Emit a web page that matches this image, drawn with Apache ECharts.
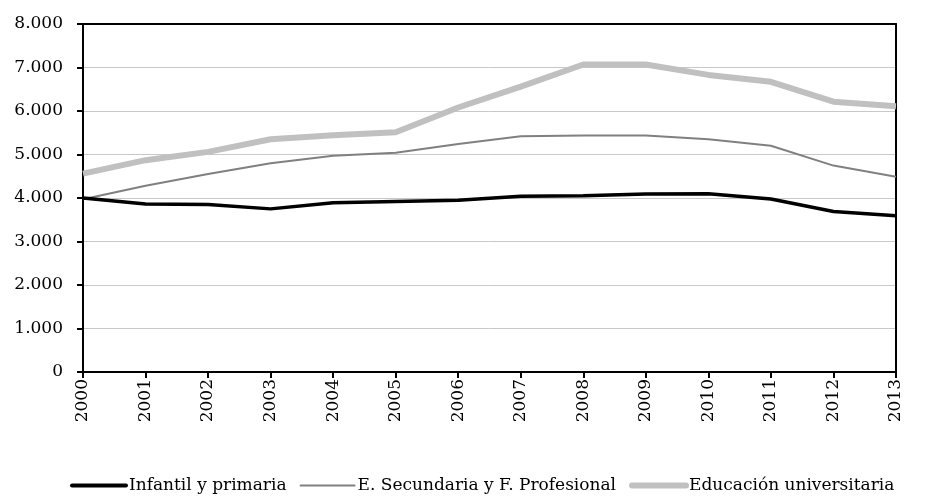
<!DOCTYPE html>
<html>
<head>
<meta charset="utf-8">
<script src="https://cdn.jsdelivr.net/npm/echarts@6/dist/echarts.min.js"></script>
<style>
  html, body { margin: 0; padding: 0; background: #fff; }
  #chart { width: 926px; height: 497px; }
</style>
</head>
<body>
<div id="chart"></div>
<script>
// años
var years = ['2000', '2001', '2002', '2003', '2004', '2005', '2006', '2007', '2008', '2009', '2010', '2011', '2012', '2013'];
// series
var infantil = [4000, 3860, 3850, 3750, 3890, 3920, 3950, 4040, 4050, 4090, 4100, 3975, 3690, 3590];
var secundaria = [3970, 4280, 4550, 4800, 4970, 5040, 5240, 5420, 5435, 5435, 5350, 5200, 4745, 4490];
var universitaria = [4560, 4870, 5060, 5350, 5440, 5510, 6080, 6560, 7070, 7070, 6830, 6670, 6215, 6110];

var FONT = 'DejaVu Serif';

function fmt(v) {
    return String(v).replace(/\B(?=(\d{3})+(?!\d))/g, '.');
}

var chart = echarts.init(document.getElementById('chart'));
chart.setOption({
    animation: false,
    textStyle: { fontFamily: FONT, color: '#000' },
    grid: { left: 83, right: 30, top: 24, bottom: 125, containLabel: false },
    legend: {
        top: 472,
        left: 65,
        itemWidth: 54,
        itemHeight: 14,
        itemGap: 13,
        textStyle: { fontFamily: FONT, fontSize: 17, color: '#000', padding: [0, 0, 0, -2] },
        data: [
            { name: 'Infantil y primaria', itemStyle: { opacity: 0 }, lineStyle: { width: 4, color: '#000', cap: 'round' } },
            { name: 'E. Secundaria y F. Profesional', itemStyle: { opacity: 0 }, lineStyle: { width: 2, color: '#808080', cap: 'round' } },
            { name: 'Educación universitaria', itemStyle: { opacity: 0 }, lineStyle: { width: 6, color: '#c0c0c0', cap: 'round' } }
        ]
    },
    xAxis: [{
        type: 'category',
        data: years,
        boundaryGap: false,
        axisLine: { lineStyle: { color: '#000', width: 2 } },
        axisTick: { show: true, alignWithLabel: true, length: 6, lineStyle: { color: '#000', width: 2 } },
        axisLabel: { rotate: 90, fontSize: 17, color: '#000', fontFamily: FONT, margin: 7, interval: 0 }
    }, {
        type: 'category',
        data: years,
        position: 'top',
        boundaryGap: false,
        axisLine: { onZero: false, lineStyle: { color: '#000', width: 2 } },
        axisTick: { show: false },
        axisLabel: { show: false }
    }],
    yAxis: [{
        type: 'value',
        min: 0,
        max: 8000,
        interval: 1000,
        axisLine: { show: true, lineStyle: { color: '#000', width: 2 } },
        axisTick: { show: true, length: 6, lineStyle: { color: '#000', width: 2 } },
        axisLabel: { fontSize: 17, color: '#000', fontFamily: FONT, margin: 20, formatter: fmt },
        splitLine: { lineStyle: { color: '#c8c8c8', width: 1 } }
    }, {
        type: 'value',
        min: 0,
        max: 8000,
        interval: 1000,
        position: 'right',
        axisLine: { show: true, onZero: false, lineStyle: { color: '#000', width: 2 } },
        axisTick: { show: false },
        axisLabel: { show: false },
        splitLine: { show: false }
    }],
    series: [{
        name: 'Infantil y primaria',
        type: 'line',
        data: infantil,
        symbol: 'none',
        z: 4,
        lineStyle: { color: '#000', width: 3.5 },
        itemStyle: { color: '#000' }
    }, {
        name: 'E. Secundaria y F. Profesional',
        type: 'line',
        data: secundaria,
        symbol: 'none',
        z: 3,
        lineStyle: { color: '#808080', width: 2 },
        itemStyle: { color: '#808080' }
    }, {
        name: 'Educación universitaria',
        type: 'line',
        data: universitaria,
        symbol: 'none',
        z: 2,
        lineStyle: { color: '#c0c0c0', width: 6 },
        itemStyle: { color: '#c0c0c0' }
    }]
});
</script>
</body>
</html>
